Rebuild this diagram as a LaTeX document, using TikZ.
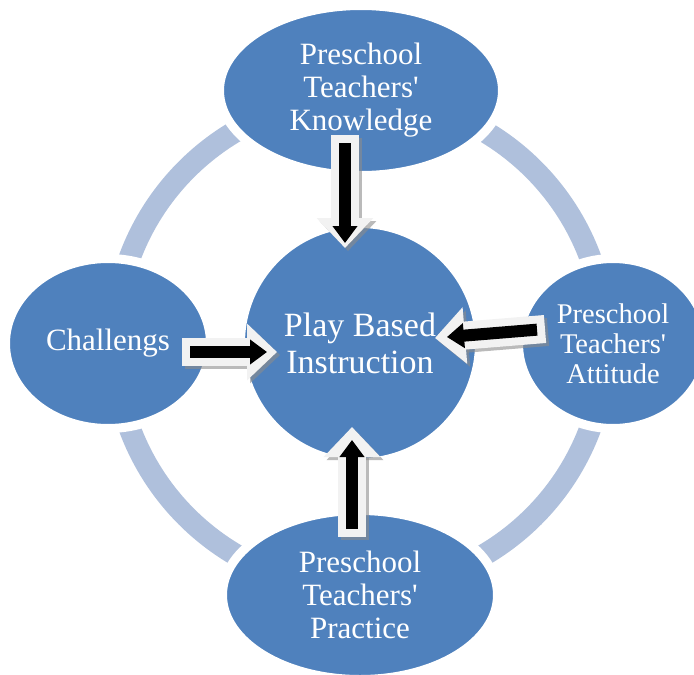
\documentclass[tikz,border=0pt]{standalone}
\usepackage{fontspec}
\setmainfont{Liberation Serif}[Ligatures=TeXOff]
\usepackage{tikz}
\usetikzlibrary{arrows.meta,shapes.geometric,calc}
\definecolor{cycleblue}{RGB}{79,129,189}
\definecolor{ringblue}{RGB}{175,192,220}
\definecolor{arrowwhite}{RGB}{242,242,242}
\definecolor{arrowgrey}{RGB}{140,140,140}
\tikzset{
  bubble/.style={ellipse,fill=cycleblue,draw=white,line width=9pt,text=white,
    align=center,inner sep=0pt,font=\fontsize{31}{33}\selectfont},
  hub/.style={circle,fill=cycleblue,draw=white,line width=9pt,text=white,
    align=center,inner sep=0pt,minimum size=239pt,font=\fontsize{34}{37}\selectfont},
  ring/.style={draw=ringblue,line width=22pt},
  fat arrow/.style={draw=arrowwhite,line width=28pt,-{Triangle[width=55pt,length=30pt]}},
  fat shadow/.style={draw=arrowgrey,opacity=0.6,line width=28pt,-{Triangle[width=55pt,length=30pt]}},
  core arrow/.style={draw=black,line width=12pt,-{Triangle[width=24pt,length=17pt]}},
}
% block arrow: shadow, white body, black core
\newcommand{\blockarrow}[3][5pt]{%
  \draw[fat shadow] ([shift={(3,-3)}]#2) -- ([shift={(3,-3)}]#3);
  \draw[fat arrow] (#2) -- (#3);
  \draw[core arrow,shorten <=8pt,shorten >=#1] (#2) -- (#3);
}

\begin{document}
\begin{tikzpicture}[x=1pt,y=1pt]
    \useasboundingbox (0,0) rectangle (694,-675);
    % ring behind the bubbles
    \draw[ring] (360,-343) circle (245.5);
    % hub and bubbles
    \node[hub] (play) at (360,-343) {Play Based\\Instruction};
    \node[bubble,minimum width=283pt,minimum height=170pt] (know) at (361,-90.5) {Preschool\\Teachers'\\Knowledge};
    \node[bubble,minimum width=275pt,minimum height=169pt] (prac) at (360,-595) {Preschool\\Teachers'\\Practice};
    \node[bubble,minimum width=205pt,minimum height=170pt] (chal) at (108,-343.5) {Challengs};
    \node[bubble,minimum width=189pt,minimum height=170pt,
      font=\fontsize{28.5}{30}\selectfont] (att) at (613,-343.5) {Preschool\\Teachers'\\Attitude};
    % arrow ends
    \coordinate (know out) at ($(know.center)+(-16,-44.5)$);
    \coordinate (know in) at ($(play.center)+(-15,95)$);
    \coordinate (prac out) at ($(prac.center)+(-8,58)$);
    \coordinate (prac in) at ($(play.center)+(-8,-84)$);
    \coordinate (chal out) at ($(chal.center)+(74,-8.5)$);
    \coordinate (chal in) at ($(play.center)+(-83,-9)$);
    \coordinate (att out) at ($(att.center)+(-68,14.5)$);
    \coordinate (att in) at ($(play.center)+(75,5)$);
    % arrows into the hub
    \blockarrow[5pt]{know out}{know in}
    \blockarrow[13pt]{prac out}{prac in}
    \blockarrow[10pt]{chal out}{chal in}
    \blockarrow[12pt]{att out}{att in}
\end{tikzpicture}
\end{document}
